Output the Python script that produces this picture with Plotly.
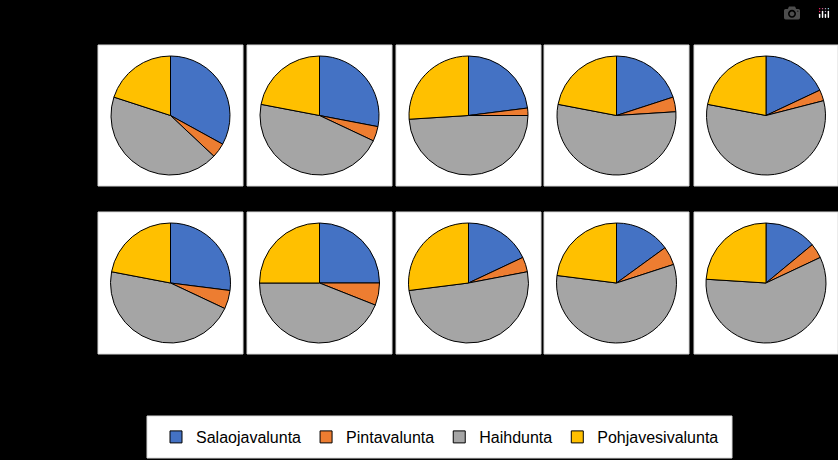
import plotly.graph_objects as go

labels = ["Salaojavalunta", "Pintavalunta", "Haihdunta", "Pohjavesivalunta"]
colors = ["#4472C4", "#ED7D31", "#A5A5A5", "#FFC000"]

salaoja = [33, 28, 23, 20, 18, 27, 25, 18, 15, 14]
pinta = [4, 4, 2, 4, 3, 5, 6, 4, 5, 4]
haihdunta = [43, 46, 49, 54, 57, 46, 44, 51, 57, 58]
pohjavesi = [20, 22, 26, 22, 22, 22, 25, 27, 23, 24]

W, H = 838, 460
box_x = [(98, 243), (247, 392), (396, 541), (544, 689), (694, 838)]
box_y = [(45, 186), (212, 354)]

fig = go.Figure()
shapes = []
for i in range(10):
    r, c = divmod(i, 5)
    x0, x1 = box_x[c]
    y0, y1 = box_y[r]
    shapes.append(dict(type="rect", xref="paper", yref="paper",
                       x0=x0 / W, x1=x1 / W, y0=1 - y1 / H, y1=1 - y0 / H,
                       fillcolor="white", line=dict(color="#d9d9d9", width=1), layer="below"))
    pad = 11
    fig.add_trace(go.Pie(
        labels=labels,
        values=[salaoja[i], pinta[i], haihdunta[i], pohjavesi[i]],
        sort=False, direction="clockwise", rotation=0,
        marker=dict(colors=colors, line=dict(color="black", width=1)),
        textinfo="none", hoverinfo="label+percent",
        showlegend=(i == 0),
        domain=dict(x=[(x0 + pad) / W, (x1 - pad) / W],
                    y=[1 - (y1 - pad) / H, 1 - (y0 + pad) / H]),
    ))

shapes.append(dict(type="rect", xref="paper", yref="paper",
                   x0=147 / W, x1=732 / W, y0=1 - 458 / H, y1=1 - 416 / H,
                   fillcolor="white", line=dict(color="#d9d9d9", width=1), layer="below"))

fig.update_layout(
    width=W, height=H,
    margin=dict(l=0, r=0, t=0, b=0),
    paper_bgcolor="black", plot_bgcolor="black",
    shapes=shapes,
    legend=dict(orientation="h", x=440 / W, xanchor="center", y=1 - 437 / H, yanchor="middle",
                bgcolor="rgba(0,0,0,0)", font=dict(family="Liberation Sans", size=16, color="black"),
                traceorder="normal"),
)

fig.write_html("out.html", post_script="document.body.style.margin='0';document.body.style.background='black';")
